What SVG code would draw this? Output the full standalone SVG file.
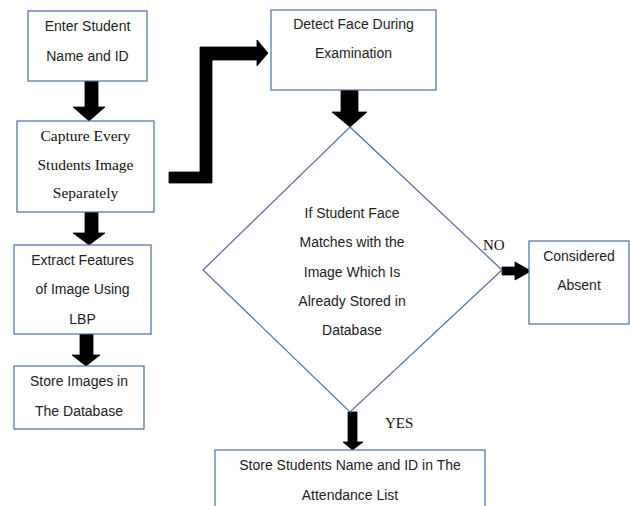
<svg xmlns="http://www.w3.org/2000/svg" width="630" height="506" viewBox="0 0 630 506">
<style>
.box{fill:#fff;stroke:#4a6fa5;stroke-width:1.2}
.t{font-family:"Liberation Sans",Arial,sans-serif;font-size:14px;fill:#222;text-anchor:middle}
.s{font-family:"Liberation Serif","Times New Roman",serif;font-size:15.5px;fill:#111;text-anchor:middle}
.lbl{font-family:"Liberation Serif","Times New Roman",serif;font-size:15px;fill:#111}
.arr{fill:#000;stroke:#000;stroke-width:0.8;stroke-linejoin:miter}
</style>
<rect width="630" height="506" fill="#fff"/>
<g id="connectors">
<polygon class="arr" points="85,81 98,81 98,107 105,107 89,121 73,107 85,107"/>
<polygon class="arr" points="85,212 98,212 98,233 105,233 89,245 73,233 85,233"/>
<polygon class="arr" points="80,334 93,334 93,355 100,355 86,366 72,355 80,355"/>
<polygon class="arr" points="169,172 200,172 200,47 257,47 257,40 268,53 257,66 257,60 212,60 212,183 169,183"/>
<polygon class="arr" points="341,90 358,90 358,112 367,112 350,127 332,112 341,112"/>
<polygon class="arr" points="502,267 515,267 515,262 531,271 515,280 515,275 502,275"/>
<polygon class="arr" points="348,412 357,412 357,442 363,442 352.5,450 343,442 348,442"/>
<text class="lbl" x="483" y="250">NO</text>
<text class="lbl" x="385" y="428">YES</text>
</g>
<g id="enter">
<rect class="box" x="28" y="11" width="119" height="70"/>
<text class="t" x="87.5" y="31">Enter Student</text>
<text class="t" x="87.5" y="61">Name and ID</text>
</g>
<g id="capture">
<rect class="box" x="17" y="121" width="137" height="91"/>
<text class="s" x="85.5" y="141">Capture Every</text>
<text class="s" x="85.5" y="170">Students Image</text>
<text class="s" x="85.5" y="198">Separately</text>
</g>
<g id="extract">
<rect class="box" x="14" y="245" width="137" height="89"/>
<text class="t" x="82.5" y="265">Extract Features</text>
<text class="t" x="82.5" y="294">of Image Using</text>
<text class="t" x="82.5" y="324">LBP</text>
</g>
<g id="storeimages">
<rect class="box" x="14" y="366" width="130" height="63"/>
<text class="t" x="79" y="386">Store Images in</text>
<text class="t" x="79" y="416">The Database</text>
</g>
<g id="detect">
<rect class="box" x="271" y="10" width="165" height="80"/>
<text class="t" x="353.5" y="29">Detect Face During</text>
<text class="t" x="353.5" y="58">Examination</text>
</g>
<g id="decision">
<polygon class="box" points="350,127 502,270 350,412 203,270"/>
<text class="t" x="352" y="218">If Student Face</text>
<text class="t" x="352" y="247">Matches with the</text>
<text class="t" x="352" y="277">Image Which Is</text>
<text class="t" x="352" y="306">Already Stored in</text>
<text class="t" x="352" y="335">Database</text>
</g>
<g id="absent">
<rect class="box" x="529" y="241" width="100" height="83"/>
<text class="t" x="579" y="261">Considered</text>
<text class="t" x="579" y="290">Absent</text>
</g>
<g id="attendance">
<rect class="box" x="215" y="450" width="270" height="70"/>
<text class="t" x="350" y="470">Store Students Name and ID in The</text>
<text class="t" x="350" y="500">Attendance List</text>
</g>
</svg>
